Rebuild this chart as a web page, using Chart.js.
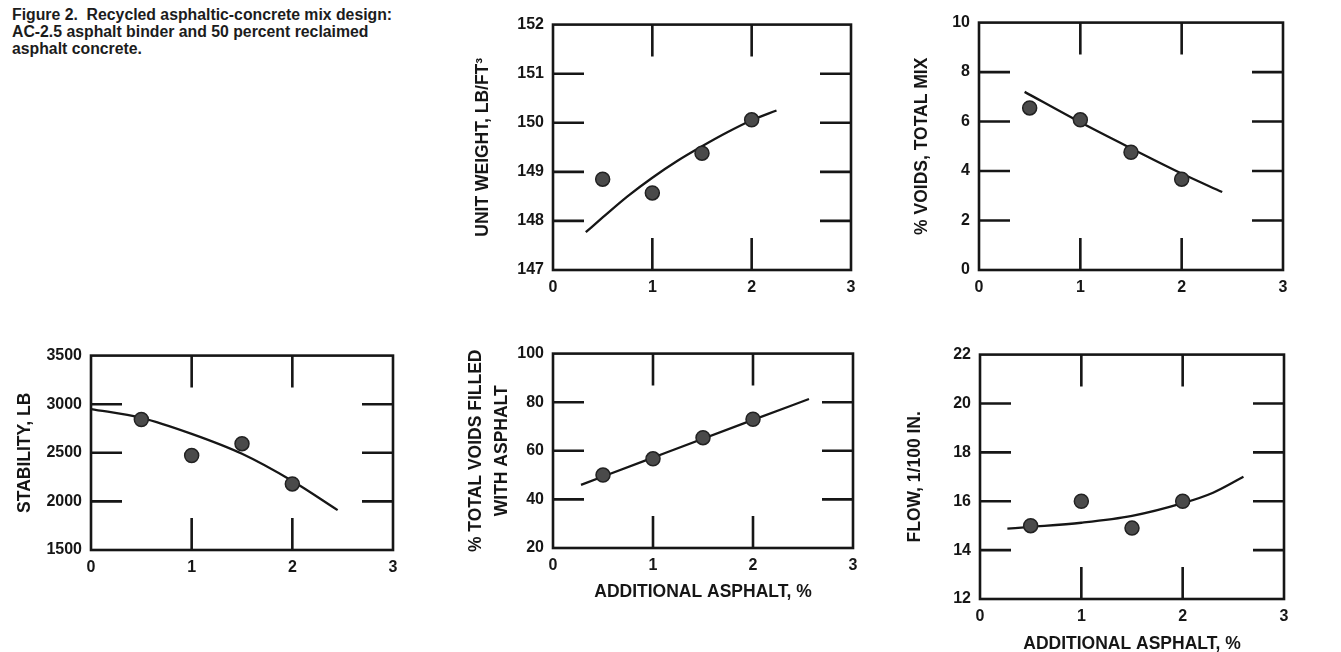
<!DOCTYPE html>
<html>
<head>
<meta charset="utf-8">
<script src="https://cdn.jsdelivr.net/npm/chart.js@4/dist/chart.umd.min.js"></script>
<style>
  body { margin: 0; background: #fff; width: 1341px; height: 652px; overflow: hidden; position: relative; }
  .caption { position: absolute; left: 12px; top: 6px; font: bold 15.8px "Liberation Sans", Arial, sans-serif; line-height: 17px; color: #1c1c1c; }
  canvas { position: absolute; }
</style>
</head>
<body>
<div class="caption">Figure 2.&nbsp; Recycled asphaltic-concrete mix design:<br>AC-2.5 asphalt binder and 50 percent reclaimed<br>asphalt concrete.</div>
<canvas id="unitWeight"></canvas>
<canvas id="voids"></canvas>
<canvas id="stability"></canvas>
<canvas id="vfa"></canvas>
<canvas id="flow"></canvas>
<script>
// data (x = additional asphalt, %)
const xTickValues = [0, 1, 2, 3];
const testX = [0.5, 1, 1.5, 2];

const unitWeightPts = [148.85, 148.57, 149.38, 150.06];
const unitWeightCurveX = [0.33, 0.5, 0.75, 1, 1.25, 1.5, 1.75, 2, 2.25];
const unitWeightCurveY = [147.77, 148.07, 148.5, 148.88, 149.22, 149.52, 149.8, 150.05, 150.25];

const voidsPts = [6.55, 6.07, 4.76, 3.67];
const voidsCurveX = [0.45, 1, 1.5, 2, 2.4];
const voidsCurveY = [7.2, 5.97, 4.92, 3.9, 3.15];

const stabilityPts = [2843, 2472, 2594, 2180];
const stabilityCurveX = [0, 0.5, 1, 1.5, 2, 2.45];
const stabilityCurveY = [2950, 2860, 2695, 2490, 2210, 1910];

const vfaPts = [50, 56.7, 65.4, 73];
const vfaCurveX = [0.28, 1, 2, 2.56];
const vfaCurveY = [46, 57.2, 72.7, 81.3];

const flowPts = [15, 16, 14.9, 16];
const flowCurveX = [0.27, 0.5, 1, 1.5, 2, 2.3, 2.6];
const flowCurveY = [14.88, 14.95, 15.12, 15.4, 15.92, 16.35, 17.0];

const ink = '#161616';
const titleFont = { family: '"Liberation Sans", Arial, sans-serif', size: 17.5, weight: 'bold' };
const tickFont = { family: '"Liberation Sans", Arial, sans-serif', size: 16, weight: 'bold' };

// frame + the short inner tick marks of the original plots
const frameTicks = {
  id: 'frameTicks',
  beforeDatasetsDraw(chart, args, opts) {
    const { ctx, chartArea: a, scales: { x, y } } = chart;
    ctx.save();
    ctx.strokeStyle = ink;
    ctx.lineWidth = 2.6;
    ctx.strokeRect(a.left, a.top, a.right - a.left, a.bottom - a.top);
    ctx.beginPath();
    opts.xMarks.forEach(v => {
      const px = x.getPixelForValue(v);
      ctx.moveTo(px, a.top); ctx.lineTo(px, a.top + 32);
      ctx.moveTo(px, a.bottom); ctx.lineTo(px, a.bottom - 32);
    });
    opts.yMarks.forEach(v => {
      const py = y.getPixelForValue(v);
      ctx.moveTo(a.left, py); ctx.lineTo(a.left + 31, py);
      ctx.moveTo(a.right, py); ctx.lineTo(a.right - 31, py);
    });
    ctx.stroke();
    ctx.restore();
  }
};

function makeChart(id, box, pts, curveX, curveY, yMin, yMax, yStep, yTitle, xTitle) {
  const canvas = document.getElementById(id);
  canvas.width = box.width; canvas.height = box.height;
  canvas.style.left = box.left + 'px'; canvas.style.top = box.top + 'px';
  canvas.style.width = box.width + 'px'; canvas.style.height = box.height + 'px';

  const yMarks = [];
  for (let v = yMin + yStep; v < yMax - 1e-9; v += yStep) yMarks.push(v);

  return new Chart(canvas, {
    type: 'scatter',
    data: {
      datasets: [
        {
          data: testX.map((v, i) => ({ x: v, y: pts[i] })),
          backgroundColor: '#4a4a4a',
          borderColor: '#222',
          borderWidth: 1.5,
          pointRadius: 7,
          showLine: false
        },
        {
          data: curveX.map((v, i) => ({ x: v, y: curveY[i] })),
          showLine: true,
          borderColor: ink,
          borderWidth: 2.3,
          pointRadius: 0,
          cubicInterpolationMode: 'monotone',
          fill: false
        }
      ]
    },
    options: {
      responsive: false,
      animation: false,
      devicePixelRatio: 1,
      layout: { padding: { top: 12, right: 14, left: 0, bottom: 0 } },
      plugins: {
        legend: { display: false },
        tooltip: { enabled: false },
        frameTicks: { xMarks: [1, 2], yMarks: yMarks }
      },
      scales: {
        x: {
          type: 'linear', min: 0, max: 3,
          afterBuildTicks: s => { s.ticks = xTickValues.map(v => ({ value: v })); },
          afterFit: s => { s.height = box.xH; },
          grid: { display: false, drawTicks: false },
          border: { display: false },
          ticks: { font: tickFont, color: ink, padding: 8, maxRotation: 0, callback: v => String(v) },
          title: { display: !!xTitle, text: xTitle || '', font: titleFont, color: ink, padding: 0 }
        },
        y: {
          type: 'linear', min: yMin, max: yMax,
          ticks: { stepSize: yStep, font: tickFont, color: ink, padding: 9, callback: v => String(v) },
          afterFit: s => { s.width = box.yW; },
          grid: { display: false, drawTicks: false },
          border: { display: false },
          title: { display: true, text: yTitle, font: Object.assign({}, titleFont, { lineHeight: box.tlh || 1.2 }), color: ink, padding: 0 }
        }
      }
    },
    plugins: [frameTicks]
  });
}

makeChart('unitWeight', { left: 473, top: 6, width: 392, height: 294, yW: 80, xH: 30 },
  unitWeightPts, unitWeightCurveX, unitWeightCurveY, 147, 152, 1, 'UNIT WEIGHT, LB/FT\u00B3');

makeChart('voids', { left: 912, top: 4, width: 385, height: 296, yW: 67, xH: 30 },
  voidsPts, voidsCurveX, voidsCurveY, 0, 10, 2, '% VOIDS, TOTAL MIX');

makeChart('stability', { left: 15, top: 337, width: 392, height: 243, yW: 76, xH: 30 },
  stabilityPts, stabilityCurveX, stabilityCurveY, 1500, 3500, 500, 'STABILITY, LB');

makeChart('vfa', { left: 463, top: 335, width: 404, height: 268, yW: 90, xH: 55, tlh: 1.5 },
  vfaPts, vfaCurveX, vfaCurveY, 20, 100, 20, ['% TOTAL VOIDS FILLED', 'WITH ASPHALT'], 'ADDITIONAL ASPHALT, %');

makeChart('flow', { left: 905, top: 336, width: 393, height: 319, yW: 75, xH: 56 },
  flowPts, flowCurveX, flowCurveY, 12, 22, 2, 'FLOW, 1/100 IN.', 'ADDITIONAL ASPHALT, %');
</script>
</body>
</html>
